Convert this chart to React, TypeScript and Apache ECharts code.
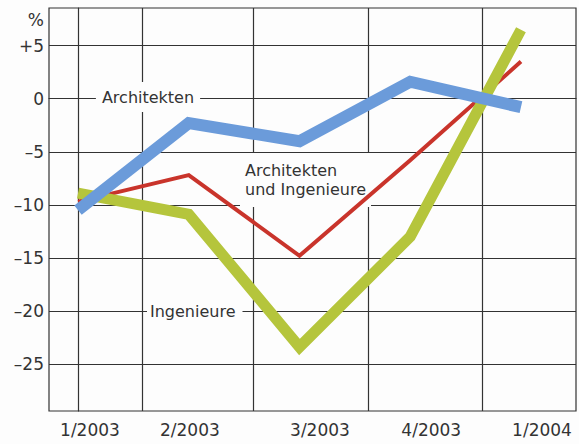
import React, { useEffect, useRef } from "react";
import * as echarts from "echarts";

const quarters = ["1/2003", "2/2003", "3/2003", "4/2003", "1/2004"];
const architekten = [-10.5, -2.3, -4.0, 1.6, -0.8];
const architektenUndIngenieure = [-9.7, -7.2, -14.8, -5.8, 3.5];
const ingenieure = [-8.9, -10.9, -23.4, -13.0, 6.5];
const yTicks = [-25, -20, -15, -10, -5, 0, 5];

const FONT = "DejaVu Sans";
const TEXT = "#333";

const toPoints = (vals: number[]) => vals.map((v, i) => [i, v]);

export default function App() {
  const ref = useRef<HTMLDivElement>(null);
  useEffect(() => {
    if (!ref.current) return;
    const chart = echarts.init(ref.current, undefined, { renderer: "svg" });
    chart.setOption({
      animation: false,
      backgroundColor: "#fdfdfd",
      grid: {
        left: 49,
        right: 3,
        top: 8,
        bottom: 33,
        show: true,
        borderColor: "#333",
        borderWidth: 1.2,
        backgroundColor: "transparent",
      },
      xAxis: {
        type: "value",
        min: -0.262,
        max: 4.497,
        axisLine: { show: true, lineStyle: { color: "#333", width: 1.2 } },
        axisTick: { show: false, customValues: [0.578, 1.58, 2.618, 3.648] },
        splitLine: { show: true, lineStyle: { color: "#333", width: 1.2 } },
        axisLabel: {
          customValues: [0.108, 1.01, 2.185, 3.19, 4.19],
          formatter: (v: number) => quarters[Math.round(v)] ?? "",
          color: TEXT,
          fontFamily: FONT,
          fontSize: 17,
          margin: 10,
        },
      },
      yAxis: {
        type: "value",
        min: -29.43,
        max: 8.55,
        axisLine: { show: true, lineStyle: { color: "#333", width: 1.2 } },
        axisTick: { show: false, customValues: yTicks },
        splitLine: { show: true, lineStyle: { color: "#333", width: 1.2 } },
        axisLabel: {
          customValues: yTicks,
          formatter: (v: number) => (v > 0 ? "+" + v : v < 0 ? "\u2013" + -v : "0"),
          color: TEXT,
          fontFamily: FONT,
          fontSize: 17,
          margin: 5,
        },
      },
      graphic: [
        {
          type: "text",
          z: 1,
          x: 44,
          y: 20,
          style: { text: "%", fill: TEXT, font: `17px "${FONT}"`, align: "right", verticalAlign: "middle" },
        },
        {
          type: "text",
          z: 1,
          x: 148,
          y: 97,
          style: {
            text: "Architekten",
            fill: TEXT,
            font: `16px "${FONT}"`,
            align: "center",
            verticalAlign: "middle",
            lineHeight: 18,
            backgroundColor: "#fdfdfd",
            padding: [6, 6, 6, 6],
          },
        },
        {
          type: "text",
          z: 1,
          x: 240,
          y: 180,
          style: {
            text: "Architekten\nund Ingenieure",
            fill: TEXT,
            font: `16px "${FONT}"`,
            align: "left",
            verticalAlign: "middle",
            lineHeight: 19,
            backgroundColor: "#fdfdfd",
            padding: [8, 5, 8, 5],
          },
        },
        {
          type: "text",
          z: 1,
          x: 147,
          y: 311,
          style: {
            text: "Ingenieure",
            fill: TEXT,
            font: `16px "${FONT}"`,
            align: "left",
            verticalAlign: "middle",
            lineHeight: 18,
            backgroundColor: "#fdfdfd",
            padding: [6, 7, 6, 3],
          },
        },
      ],
      series: [
        {
          name: "Architekten und Ingenieure",
          type: "line",
          z: 3,
          data: toPoints(architektenUndIngenieure),
          symbol: "none",
          lineStyle: { color: "#c9342b", width: 4, join: "miter" },
        },
        {
          name: "Ingenieure",
          type: "line",
          z: 4,
          data: toPoints(ingenieure),
          symbol: "none",
          lineStyle: { color: "#b5c53c", width: 11, join: "miter" },
        },
        {
          name: "Architekten",
          type: "line",
          z: 5,
          data: toPoints(architekten),
          symbol: "none",
          lineStyle: { color: "#6b9bda", width: 12, join: "miter" },
        },
      ],
    });
    return () => chart.dispose();
  }, []);
  return (
    <div
      ref={ref}
      style={{ position: "absolute", left: 0, top: 0, width: 579, height: 444 }}
    />
  );
}
